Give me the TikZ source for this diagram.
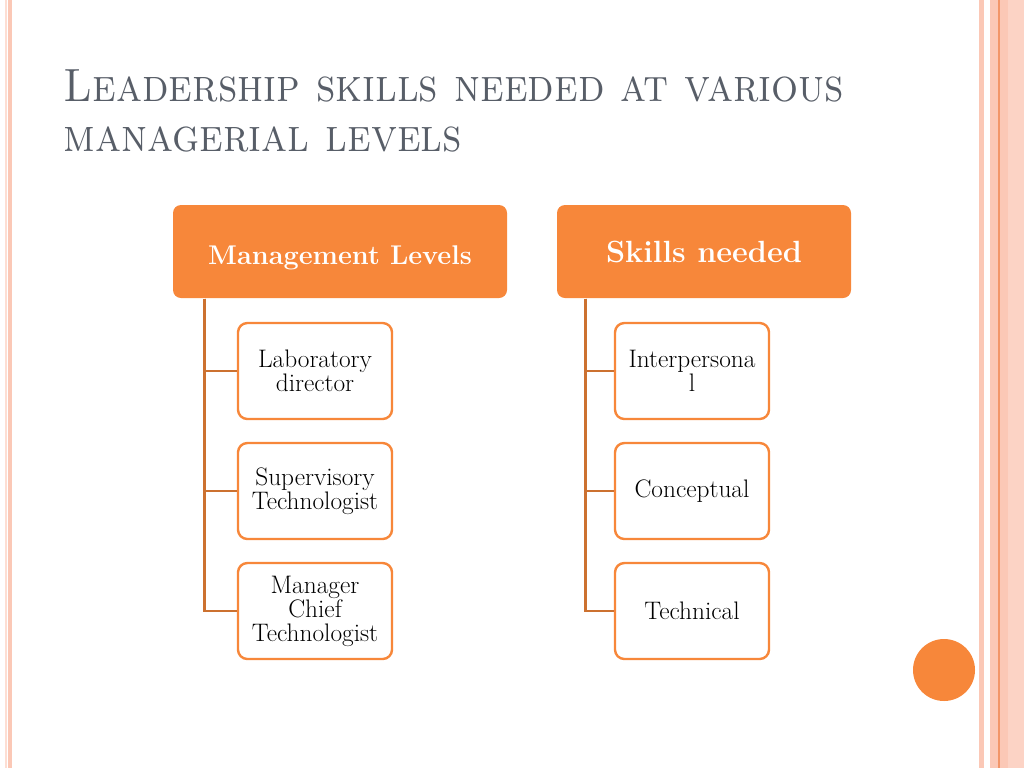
\documentclass[tikz,border=0pt]{standalone}
\usepackage{graphicx}
\usetikzlibrary{positioning}
\definecolor{hdorange}{RGB}{247,135,58}
\definecolor{lnorange}{RGB}{204,113,48}
\definecolor{stripe}{RGB}{251,200,182}
\definecolor{stripedark}{RGB}{242,150,105}
\definecolor{titlegray}{RGB}{88,94,104}

\begin{document}
\begin{tikzpicture}[x=0.75pt, y=-0.75pt, thick,
    head/.style = {draw=none, fill=hdorange, rounded corners=6pt, text=white,
                   font=\bfseries, minimum height=69.75pt, align=center},
    item/.style = {draw=hdorange, line width=1.8pt, fill=white, rounded corners=7pt,
                   minimum width=115.5pt, minimum height=72pt, align=center,
                   font=\fontsize{19}{18}\selectfont},
    link/.style = {draw=lnorange, line width=2.2pt}]
  \useasboundingbox (0,0) rectangle (1024,768);
  % slide border strips
  \fill[stripe!60] (5,0) rectangle (6.5,768);
  \fill[stripe] (8,0) rectangle (12,768);
  \fill[stripe] (979,0) rectangle (984,768);
  \fill[stripe] (990,0) rectangle (1024,768);
  \fill[stripe!80] (1008,0) rectangle (1024,768);
  \fill[stripedark] (998,0) rectangle (999.5,768);
  % title
  \node[anchor=base west, inner sep=0, text=titlegray] (title) at (63,101)
    {\scalebox{0.91}[1]{\fontsize{35}{42}\selectfont\textsc{Leadership skills needed at various}}};
  \node[anchor=base west, inner sep=0, text=titlegray] (title2) at (63,151)
    {\scalebox{0.91}[1]{\fontsize{35}{42}\selectfont\textsc{managerial levels}}};
  % headers
  \node[head, minimum width=250.5pt, text height=24pt, text depth=4pt,
        font=\bfseries\fontsize{20.3}{24}\selectfont] (ml) at (340,251.5) {Management Levels};
  \node[head, minimum width=220.5pt, text height=21.5pt, text depth=5pt,
        font=\bfseries\fontsize{23}{27}\selectfont] (sn) at (704,251.5) {Skills needed};
  % left column
  \node[item] (lab) at (315,371) {Laboratory\\director};
  \node[item] (sup) at (315,491) {Supervisory\\Technologist};
  \node[item] (mgr) at (315,611) {Manager\\Chief\\Technologist};
  % right column
  \node[item] (inter) at (692,371) {Interpersona\\l};
  \node[item] (conc) at (692,491) {Conceptual};
  \node[item] (tech) at (692,611) {Technical};
  % connectors
  \foreach \n in {lab,sup,mgr}
    \draw[link] ([xshift=24pt]ml.south west) |- (\n.west);
  \foreach \n in {inter,conc,tech}
    \draw[link] ([xshift=21.75pt]sn.south west) |- (\n.west);
  % dot
  \fill[hdorange] (944,670) circle (23.25pt);
\end{tikzpicture}
\end{document}
